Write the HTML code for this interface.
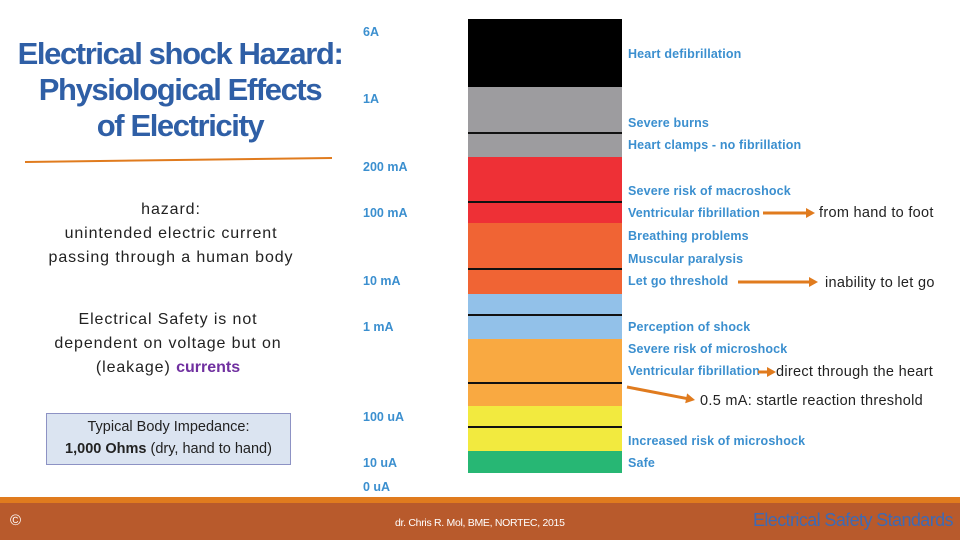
<!DOCTYPE html>
<html><head><meta charset="utf-8"><style>
body{margin:0;width:960px;height:540px;overflow:hidden;background:#fff;font-family:"Liberation Sans",sans-serif;position:relative}
.t{position:absolute;white-space:nowrap}
.title{position:absolute;left:0;width:360px;text-align:center;color:#2f5fa6;font-weight:bold;font-size:31px;line-height:36px;letter-spacing:-1.4px}
.body{position:absolute;width:340px;text-align:center;color:#222;font-size:16px;line-height:24px;letter-spacing:0.9px}
</style></head><body>
<div class="title" style="top:36px">Electrical shock Hazard:<br>Physiological Effects<br>of Electricity</div>
<svg class="t" style="left:0;top:0" width="360" height="170"><line x1="25" y1="162" x2="332" y2="158" stroke="#e07b1e" stroke-width="2"/></svg>
<div class="body" style="top:198px;left:1px">hazard:<br>unintended electric current<br>passing through a human body</div>
<div class="body" style="top:308px;left:-2px">Electrical Safety is not<br>dependent on voltage but on<br>(leakage) <b style="color:#7030a0;letter-spacing:0">currents</b></div>
<div class="t" style="left:46px;top:413px;width:243px;height:48px;background:#dbe4f1;border:1px solid #8d92c4;text-align:center;font-size:14.5px;line-height:22px;color:#222;padding-top:2px">Typical Body Impedance:<br><b>1,000 Ohms</b> (dry, hand to hand)</div>
<svg class="t" style="left:0;top:0" width="960" height="500" id="chart"></svg>
<div class="t" style="left:0;top:497px;width:960px;height:6px;background:#e07b1e"></div>
<div class="t" style="left:0;top:503px;width:960px;height:37px;background:#b85a2c"></div>
<div class="t" style="left:10px;top:512px;color:#fff;font-size:15px">©</div>
<div class="t" style="left:395px;top:517px;color:#fff;font-size:10.5px;letter-spacing:-0.3px">dr. Chris R. Mol, BME, NORTEC, 2015</div>
<div class="t" style="left:753px;top:510px;color:#3d6ab5;font-size:18px;letter-spacing:-0.6px">Electrical Safety Standards</div>
<script>
const bandColors=["#000000","#9d9c9f","#ee3036","#f06434","#92c1e9","#f9a941","#f2ea3f","#27b774"];
const bandEdges=[19,87,157,223,294,339,406,451,473];
const dividers=[133,202,269,315,383,427];
const tickLabels=["6A","1A","200 mA","100 mA","10 mA","1 mA","100 uA","10 uA","0 uA"];
const tickY=[32,99,167,213,281,327,417,463,487];
const effectLabels=["Heart defibrillation","Severe burns","Heart clamps - no fibrillation","Severe risk of macroshock","Ventricular fibrillation","Breathing problems","Muscular paralysis","Let go threshold","Perception of shock","Severe risk of microshock","Ventricular fibrillation","Increased risk of microshock","Safe"];
const effectY=[54,123,145,191,213,236,259,281,327,349,371,441,463];
const notes=["from hand to foot","inability to let go","direct through the heart","0.5 mA: startle reaction threshold"];
const noteY=[212,282,371,400];
const noteX=[819,825,776,700];
const arrows=[[763,213,815,213],[738,282,818,282],[758,372,776,372],[627,387,695,400]];
const svg=document.getElementById('chart');const NS="http://www.w3.org/2000/svg";
function mk(t,a){const e=document.createElementNS(NS,t);for(const k in a)e.setAttribute(k,a[k]);svg.appendChild(e);return e;}
const X0=468,X1=622;
bandColors.forEach((c,i)=>{const r=mk('rect',{x:X0,y:bandEdges[i],width:X1-X0,height:bandEdges[i+1]-bandEdges[i],fill:c});

});
dividers.forEach((y,i)=>{const l=mk('line',{x1:X0,x2:X1,y1:y,y2:y,stroke:'#111','stroke-width':2});

});
tickLabels.forEach((s,i)=>{const t=mk('text',{x:363,y:tickY[i]+4,fill:'#3b8fcf','font-size':12.5,'font-weight':'bold'});t.textContent=s;

});
effectLabels.forEach((s,i)=>{const t=mk('text',{x:628,y:effectY[i]+4,fill:'#3b8fcf','font-size':12.5,'font-weight':'bold','letter-spacing':0.15});t.textContent=s;

});
arrows.forEach((a,i)=>{const l=mk('line',{x1:a[0],y1:a[1],x2:a[2]-6,y2:a[3]-(a[3]-a[1])*0.08,stroke:'#e07b1e','stroke-width':3});


const ang=Math.atan2(a[3]-a[1],a[2]-a[0]),x=a[2],y=a[3];
const p=mk('polygon',{points:`${x},${y} ${x-9*Math.cos(ang)+5*Math.sin(ang)},${y-9*Math.sin(ang)-5*Math.cos(ang)} ${x-9*Math.cos(ang)-5*Math.sin(ang)},${y-9*Math.sin(ang)+5*Math.cos(ang)}`,fill:'#e07b1e'});

});
notes.forEach((s,i)=>{const t=mk('text',{x:noteX[i],y:noteY[i]+5,fill:'#222','font-size':14.5,'letter-spacing':0.3});t.textContent=s;

});
</script>
</body></html>
